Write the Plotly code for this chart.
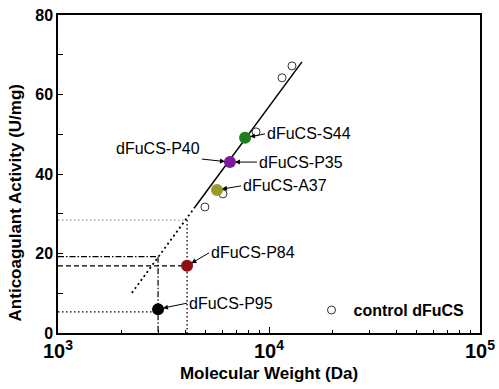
import math
import plotly.graph_objects as go

# ---- data ----
sample_names = ["dFuCS-S44", "dFuCS-P35", "dFuCS-A37", "dFuCS-P84", "dFuCS-P95"]
sample_mw = [7700, 6530, 5670, 4090, 2980]
sample_act = [49.1, 43.0, 36.0, 16.9, 6.0]
sample_colors = ["#1e7d1e", "#7d1a9c", "#9c9a2c", "#8e1010", "#000000"]

control_mw = [12850, 11530, 8680, 6050, 4970]
control_act = [67.2, 64.2, 50.6, 35.0, 31.7]

fit_solid_mw = [4460, 14330]
fit_solid_act = [31.7, 68.2]
fit_dotted_mw = [2240, 4460]
fit_dotted_act = [10.1, 31.7]

ref_act_gray = 28.4
ref_act_dashdot = 19.2
ref_mw_p84 = 4090
ref_mw_p95 = 2980
ref_act_p84 = 16.9
ref_act_p95 = 5.3

x_range = [1e3, 1e5]
y_range = [0, 80]

FONT = "Liberation Sans, Arial, sans-serif"

fig = go.Figure()

def line(xs, ys, color="black", dash="solid", width=1.3):
    fig.add_trace(go.Scatter(x=xs, y=ys, mode="lines", showlegend=False,
                             line=dict(color=color, dash=dash, width=width),
                             hoverinfo="skip"))

DOT = "1.5px,2.5px"
DASH = "5px,3px"
DASHDOT = "6px,2px,1.5px,2px"

# reference guide lines
line([x_range[0], ref_mw_p84], [ref_act_gray, ref_act_gray], color="#a0a0a0", dash=DOT, width=1.2)
line([ref_mw_p84, ref_mw_p84], [ref_act_gray, 0], color="black", dash=DOT, width=1.3)
line([x_range[0], ref_mw_p95], [ref_act_dashdot, ref_act_dashdot], dash=DASHDOT, width=1.2)
line([ref_mw_p95, ref_mw_p95], [ref_act_dashdot, 0], dash=DASHDOT, width=1.2)
line([x_range[0], ref_mw_p84], [ref_act_p84, ref_act_p84], dash=DASH, width=1.3)
line([x_range[0], ref_mw_p95], [ref_act_p95, ref_act_p95], dash=DOT, width=1.3)

# fit line
line(fit_dotted_mw, fit_dotted_act, dash="2px,3px", width=1.8)
line(fit_solid_mw, fit_solid_act, width=1.5)

# control points
fig.add_trace(go.Scatter(x=control_mw, y=control_act, mode="markers", name="control dFuCS",
                         marker=dict(symbol="circle-open", size=8, color="#333333",
                                     line=dict(width=1)),
                         showlegend=True))

# samples
fig.add_trace(go.Scatter(x=sample_mw, y=sample_act, mode="markers", showlegend=False,
                         marker=dict(size=12, color=sample_colors, line=dict(width=0))))

# labels with arrows: (sample index, text, tail dx, tail dy, xanchor, yanchor)
label_specs = [
    (0, "dFuCS-S44", 20, -4, "left", "middle"),
    (1, "dFuCS-P40", -28, -3, "right", "bottom"),
    (1, "dFuCS-P35", 27, 0, "left", "middle"),
    (2, "dFuCS-A37", 24, -4, "left", "middle"),
    (3, "dFuCS-P84", 22, -13, "left", "middle"),
    (4, "dFuCS-P95", 29, -6, "left", "middle"),
]
for idx, txt, ax, ay, xa, ya in label_specs:
    fig.add_annotation(x=math.log10(sample_mw[idx]), y=sample_act[idx], xref="x", yref="y",
                       text=txt, showarrow=True, ax=ax, ay=ay, xanchor=xa, yanchor=ya,
                       arrowhead=2, arrowsize=1, arrowwidth=1, arrowcolor="black", standoff=5,
                       borderpad=1,
                       font=dict(family=FONT, size=16, color="black"))

# y-axis title as annotation
fig.add_annotation(x=-0.1, y=0.41, xref="paper", yref="paper", text="Anticoagulant Activity (U/mg)",
                   textangle=-90, showarrow=False, xanchor="center", yanchor="middle",
                   font=dict(family=FONT, size=17, color="black", weight="bold"))

fig.update_xaxes(type="log", range=[math.log10(x_range[0]), math.log10(x_range[1])],
                 dtick=1, exponentformat="power", showgrid=False, zeroline=False,
                 automargin=False,
                 showline=True, linecolor="black", linewidth=1.5, mirror=True,
                 ticks="inside", ticklen=6, tickcolor="black",
                 minor=dict(ticks="inside", ticklen=3, dtick="D1", tickcolor="black", showgrid=False),
                 tickfont=dict(family=FONT, size=16, color="black", weight="bold"),
                 title=dict(text="Molecular Weight (Da)", standoff=6,
                            font=dict(family=FONT, size=17, color="black", weight="bold")))
fig.update_yaxes(range=y_range, dtick=20, showgrid=False, zeroline=False,
                 automargin=False,
                 showline=True, linecolor="black", linewidth=1.5, mirror=True,
                 ticks="inside", ticklen=5, tickcolor="black",
                 minor=dict(ticks="inside", ticklen=5, dtick=10, tickcolor="black", showgrid=False),
                 tickfont=dict(family=FONT, size=16, color="black", weight="bold"))

fig.update_layout(width=499, height=389, margin=dict(l=58, r=19, t=15, b=56),
                  paper_bgcolor="white", plot_bgcolor="white",
                  legend=dict(x=0.596, y=0.072, xanchor="left", yanchor="middle",
                              bgcolor="rgba(0,0,0,0)", itemwidth=34,
                              font=dict(family=FONT, size=16, color="black", weight="bold")))

fig.write_html("out.html", config={"displayModeBar": False},
               post_script="document.body.style.margin='0';document.body.style.overflow='hidden';")
